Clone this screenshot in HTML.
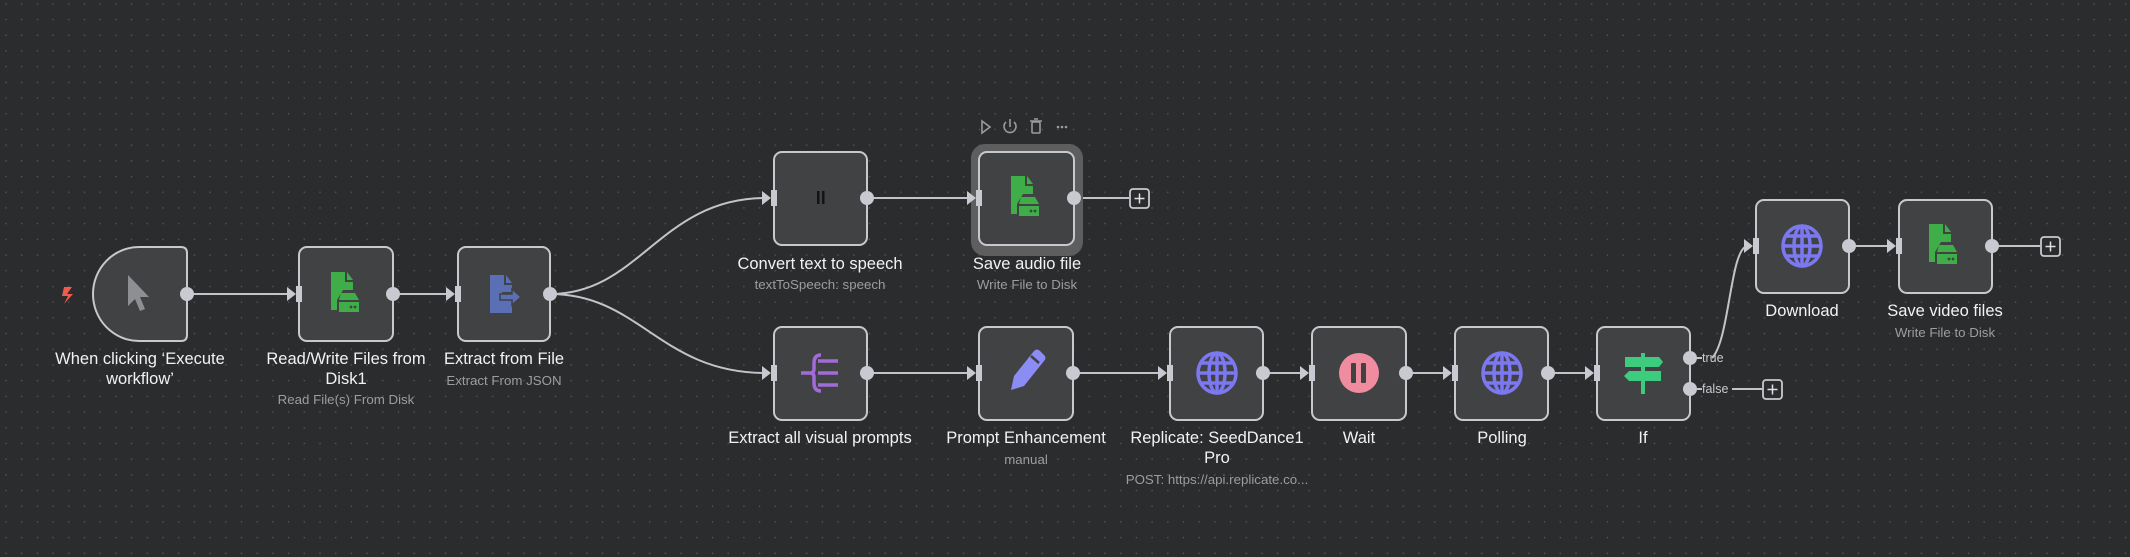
<!DOCTYPE html>
<html><head><meta charset="utf-8"><style>
html,body{margin:0;padding:0;background:#2b2c2d;}
svg{display:block;}
text{font-family:"Liberation Sans",sans-serif;}
.t{fill:#f2f2f3;font-size:16.5px;text-anchor:middle;}
.s{fill:#9c9da1;font-size:13.3px;text-anchor:middle;}
.n{fill:#414244;stroke:#c8c9ce;stroke-width:2;}
.e{stroke:#c3c4c9;stroke-width:2;fill:none;}
.h{fill:#c8c9d1;}
</style></head><body>
<svg width="2130" height="557" viewBox="0 0 2130 557" xmlns="http://www.w3.org/2000/svg">
<defs>
<pattern id="g" x="5" y="2.8" width="15.7" height="15.7" patternUnits="userSpaceOnUse"><circle cx="1" cy="1" r="0.8" fill="#56575a"/></pattern>
<g id="inp"><rect x="-3" y="-8" width="6" height="16" fill="#c8c9d1"/><path d="M-12,-7 L-3,0 L-12,7 Z" fill="#c8c9d1"/></g>
<g id="file">
<path d="M-14,-22 L0,-22 L0,-12 L8,-12 L8,-4 L-2,-4 L-8,6 L-8,16 L-14,16 Z" fill="#3fae49"/>
<path d="M2,-22 L8,-14 L2,-14 Z" fill="#3fae49"/>
<path d="M-4,-1 L10,-1 L14,6 L-6,6 Z" fill="#3fae49"/>
<rect x="-6" y="8" width="20" height="10" fill="#3fae49"/>
<circle cx="6" cy="13" r="1.4" fill="#414244"/><circle cx="10" cy="13" r="1.4" fill="#414244"/>
</g>
<g id="globe" fill="none" stroke="#7b78f0" stroke-width="3.5">
<ellipse cx="0" cy="0" rx="19" ry="20"/><ellipse cx="0" cy="0" rx="8" ry="20"/>
<line x1="-19" y1="0" x2="19" y2="0"/><path d="M-16,-10 H16 M-16,10 H16"/><line x1="0" y1="-20" x2="0" y2="20"/>
</g>
</defs>
<rect width="2130" height="557" fill="#2b2c2d"/>
<rect width="2130" height="557" fill="url(#g)"/>

<!-- edges -->
<line class="e" x1="187" y1="294" x2="290" y2="294"/>
<line class="e" x1="393" y1="294" x2="450" y2="294"/>
<path class="e" d="M550,294 C640,294 660,198 766,198"/>
<path class="e" d="M550,294 C640,294 660,373 766,373"/>
<line class="e" x1="867" y1="198" x2="970" y2="198"/>
<line class="e" x1="1074" y1="198" x2="1129" y2="198"/>
<line class="e" x1="867" y1="373" x2="971" y2="373"/>
<line class="e" x1="1073" y1="373" x2="1162" y2="373"/>
<line class="e" x1="1263" y1="373" x2="1304" y2="373"/>
<line class="e" x1="1406" y1="373" x2="1447" y2="373"/>
<line class="e" x1="1549" y1="373" x2="1589" y2="373"/>
<path class="e" d="M1712,358 C1730,340 1730,246 1748,246"/>
<line class="e" x1="1732" y1="389" x2="1762" y2="389"/>
<line class="e" x1="1850" y1="246" x2="1891" y2="246"/>
<line class="e" x1="1993" y1="246" x2="2040" y2="246"/>

<!-- plus boxes -->
<g stroke="#c8c9ce" stroke-width="1.8" fill="#2b2c2d">
<rect x="1130" y="189" width="19" height="19" rx="3"/>
<rect x="1763" y="380" width="19" height="19" rx="3"/>
<rect x="2041" y="237" width="19" height="19" rx="3"/>
</g>
<g stroke="#e0e0e3" stroke-width="1.5">
<path d="M1134.5,198.5 H1144.5 M1139.5,193.5 V203.5"/>
<path d="M1767.5,389.5 H1777.5 M1772.5,384.5 V394.5"/>
<path d="M2045.5,246.5 H2055.5 M2050.5,241.5 V251.5"/>
</g>

<!-- selection halo -->
<rect x="971" y="144" width="112" height="112" rx="14" fill="#5e5e5f"/>
<!-- toolbar -->
<g stroke="#9a9b9f" stroke-width="1.6" fill="none">
<path d="M982,121 L990,127 L982,133 Z"/>
<path d="M1006,122 A6,6 0 1 0 1014,122 M1010,119 V127"/>
<rect x="1032" y="122" width="8" height="11" rx="1"/><path d="M1030,121 H1042 M1034,119 H1038"/>
</g>
<g fill="#9a9b9f"><circle cx="1058" cy="127" r="1.3"/><circle cx="1062" cy="127" r="1.3"/><circle cx="1066" cy="127" r="1.3"/></g>

<!-- nodes -->
<path class="n" d="M139,247 L181,247 Q187,247 187,253 L187,335 Q187,341 181,341 L139,341 A46,47 0 0 1 139,247 Z"/>
<rect class="n" x="299" y="247" width="94" height="94" rx="8"/>
<rect class="n" x="458" y="247" width="92" height="94" rx="8"/>
<rect class="n" x="774" y="152" width="93" height="93" rx="8"/>
<rect class="n" x="979" y="152" width="95" height="93" rx="8"/>
<rect class="n" x="774" y="327" width="93" height="93" rx="8"/>
<rect class="n" x="979" y="327" width="94" height="93" rx="8"/>
<rect class="n" x="1170" y="327" width="93" height="93" rx="8"/>
<rect class="n" x="1312" y="327" width="94" height="93" rx="8"/>
<rect class="n" x="1455" y="327" width="93" height="93" rx="8"/>
<rect class="n" x="1597" y="327" width="93" height="93" rx="8"/>
<rect class="n" x="1756" y="200" width="93" height="93" rx="8"/>
<rect class="n" x="1899" y="200" width="93" height="93" rx="8"/>

<!-- input handles -->
<use href="#inp" x="299" y="294"/>
<use href="#inp" x="458" y="294"/>
<use href="#inp" x="774" y="198"/>
<use href="#inp" x="774" y="373"/>
<use href="#inp" x="979" y="198"/>
<use href="#inp" x="979" y="373"/>
<use href="#inp" x="1170" y="373"/>
<use href="#inp" x="1312" y="373"/>
<use href="#inp" x="1455" y="373"/>
<use href="#inp" x="1597" y="373"/>
<use href="#inp" x="1756" y="246"/>
<use href="#inp" x="1899" y="246"/>

<!-- output handles -->
<g class="h">
<circle cx="187" cy="294" r="7"/><circle cx="393" cy="294" r="7"/><circle cx="550" cy="294" r="7"/>
<circle cx="867" cy="198" r="7"/><circle cx="1074" cy="198" r="7"/>
<circle cx="867" cy="373" r="7"/><circle cx="1073" cy="373" r="7"/><circle cx="1263" cy="373" r="7"/>
<circle cx="1406" cy="373" r="7"/><circle cx="1548" cy="373" r="7"/>
<circle cx="1690" cy="358" r="7"/><circle cx="1690" cy="389" r="7"/>
<circle cx="1849" cy="246" r="7"/><circle cx="1992" cy="246" r="7"/>
</g>
<line class="e" x1="1697" y1="358" x2="1702" y2="358"/><line class="e" x1="1697" y1="389" x2="1702" y2="389"/>
<text x="1702" y="362" fill="#c8c9ce" font-size="12.5">true</text>
<text x="1702" y="393" fill="#c8c9ce" font-size="12.5">false</text>

<!-- icons -->
<path d="M64,287 L72,287 L67,294 L73,294 L64,304 L68,296 L62,296 Z" fill="#ef5b4c"/>
<path d="M128,275 L128,306 L135,299 L140,311 L145,309 L140,297 L149,297 Z" fill="#8e8f93"/>
<use href="#file" x="345" y="294"/>
<g fill="#5b6fb5"><path d="M490,275 L504,275 L504,285 L512,285 L512,292 L502,292 L502,300 L512,300 L512,313 L490,313 Z"/><path d="M506,275 L512,283 L506,283 Z"/><path d="M500,294 L512,294 L512,289 L521,297 L512,305 L512,300 L500,300 Z" stroke="#414244" stroke-width="1.5"/></g>
<g fill="#141414"><rect x="817" y="191" width="2.5" height="13"/><rect x="822" y="191" width="2.5" height="13"/></g>
<use href="#file" x="1025" y="198"/>
<g fill="none" stroke="#a36bd8" stroke-width="3.5"><path d="M801,373 H810"/><path d="M821,355 Q814,355 814,363 L814,369 Q814,373 810,373 Q814,373 814,377 L814,383 Q814,391 821,391"/><path d="M818,361 H838 M818,373 H838 M818,385 H838"/></g>
<g><path d="M1011,390 L1014,376 L1034,351 Q1037,348 1040,351 L1044,355 Q1047,358 1044,361 L1024,386 Z" fill="#8c8cf5"/><line x1="1031" y1="356" x2="1039" y2="363" stroke="#414244" stroke-width="2.5"/></g>
<use href="#globe" x="1217" y="373"/>
<circle cx="1359" cy="373" r="20" fill="#f08ca0"/><g fill="#414244"><rect x="1351" y="363" width="5" height="20" rx="1"/><rect x="1361" y="363" width="5" height="20" rx="1"/></g>
<use href="#globe" x="1502" y="373"/>
<g fill="#3dcc7e"><rect x="1641" y="353" width="4" height="41"/><path d="M1625,357 H1659 L1663,362 L1659,367 H1625 Z"/><path d="M1629,371 H1661 V381 H1629 L1624,376 Z"/></g>
<use href="#globe" x="1802" y="246"/>
<use href="#file" x="1943" y="246"/>

<!-- labels -->
<text class="t" x="140" y="364">When clicking ‘Execute</text>
<text class="t" x="140" y="384">workflow’</text>
<text class="t" x="346" y="364">Read/Write Files from</text>
<text class="t" x="346" y="384">Disk1</text>
<text class="s" x="346" y="404">Read File(s) From Disk</text>
<text class="t" x="504" y="364">Extract from File</text>
<text class="s" x="504" y="385">Extract From JSON</text>
<text class="t" x="820" y="269">Convert text to speech</text>
<text class="s" x="820" y="289">textToSpeech: speech</text>
<text class="t" x="1027" y="269">Save audio file</text>
<text class="s" x="1027" y="289">Write File to Disk</text>
<text class="t" x="820" y="443">Extract all visual prompts</text>
<text class="t" x="1026" y="443">Prompt Enhancement</text>
<text class="s" x="1026" y="464">manual</text>
<text class="t" x="1217" y="443">Replicate: SeedDance1</text>
<text class="t" x="1217" y="463">Pro</text>
<text class="s" x="1217" y="484">POST: https://api.replicate.co...</text>
<text class="t" x="1359" y="443">Wait</text>
<text class="t" x="1502" y="443">Polling</text>
<text class="t" x="1643" y="443">If</text>
<text class="t" x="1802" y="316">Download</text>
<text class="t" x="1945" y="316">Save video files</text>
<text class="s" x="1945" y="337">Write File to Disk</text>
</svg>
</body></html>
